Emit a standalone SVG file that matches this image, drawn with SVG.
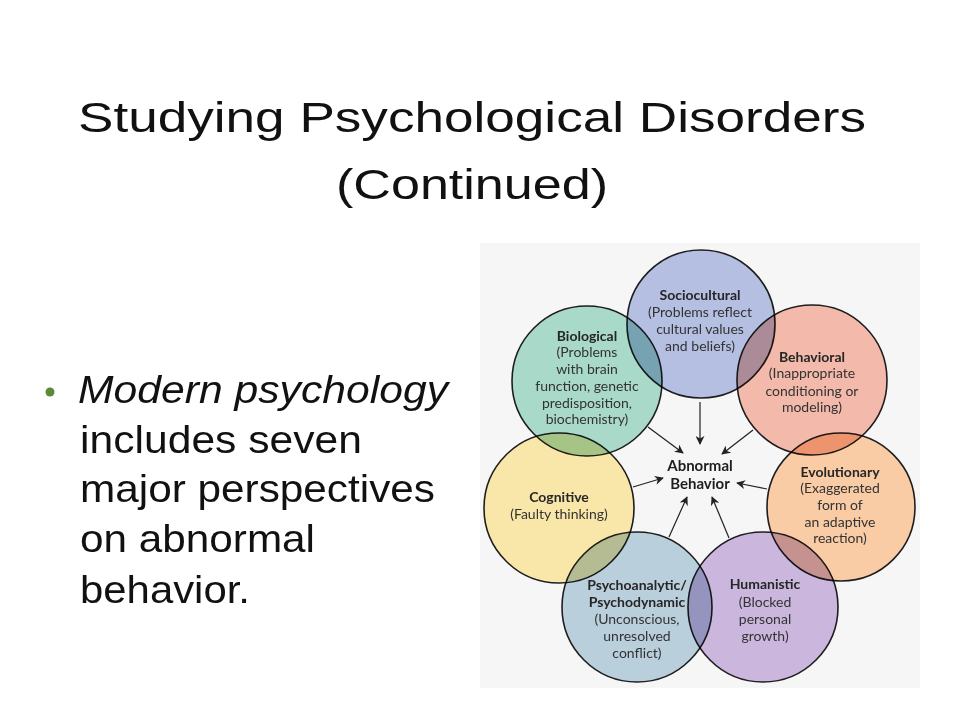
<svg xmlns="http://www.w3.org/2000/svg" width="960" height="720" viewBox="0 0 960 720">
<defs>
<marker id="ah" viewBox="0 0 10 10" refX="9" refY="5" markerWidth="9" markerHeight="9" markerUnits="userSpaceOnUse" orient="auto">
<path d="M0,0 L10,5 L0,10 L3,5 Z" fill="#222"/>
</marker>
</defs>
<style>
.title{font-family:"Liberation Sans",Arial,sans-serif;font-size:43px;fill:#111;}
.body{font-family:"Liberation Sans",Arial,sans-serif;font-size:39px;fill:#111;}
.c{stroke:#1e1e1e;stroke-width:1.6;mix-blend-mode:multiply;}
.h{font-family:Lato,"Open Sans",sans-serif;font-size:14px;font-weight:bold;fill:#262626;text-anchor:middle;}
.t{font-family:Lato,"Open Sans",sans-serif;font-size:14px;fill:#333;text-anchor:middle;}
.ab{font-family:Lato,"Open Sans",sans-serif;font-size:15px;font-weight:bold;fill:#1e1e1e;text-anchor:middle;}
.a{stroke:#222;stroke-width:1.2;fill:none;marker-end:url(#ah);}
</style>
<rect width="960" height="720" fill="#ffffff"/>
<g id="title">
<text class="title" x="78" y="132" textLength="788" lengthAdjust="spacingAndGlyphs">Studying Psychological Disorders</text>
<text class="title" x="336" y="199" textLength="272" lengthAdjust="spacingAndGlyphs">(Continued)</text>
</g>
<g id="bullet">
<circle cx="50" cy="392" r="4.5" fill="#5a8a3a"/>
<text class="body" x="78" y="403" font-style="italic" textLength="370" lengthAdjust="spacingAndGlyphs">Modern psychology</text>
<text class="body" x="80" y="453" textLength="282" lengthAdjust="spacingAndGlyphs">includes seven</text>
<text class="body" x="80" y="502" textLength="355" lengthAdjust="spacingAndGlyphs">major perspectives</text>
<text class="body" x="80" y="552" textLength="235" lengthAdjust="spacingAndGlyphs">on abnormal</text>
<text class="body" x="80" y="603" textLength="170" lengthAdjust="spacingAndGlyphs">behavior.</text>
</g>
<rect x="480" y="243" width="440" height="445" fill="#f6f6f6"/>
<g id="circles" style="isolation:isolate">
<circle id="sociocultural-c" class="c" cx="701" cy="324" r="74" fill="#b4bfe2"/>
<circle id="biological-c" class="c" cx="587" cy="381" r="75" fill="#a9d9c8"/>
<circle id="behavioral-c" class="c" cx="812" cy="380" r="75" fill="#f3b9aa"/>
<circle id="evolutionary-c" class="c" cx="841" cy="507" r="74" fill="#f9cca6"/>
<circle id="humanistic-c" class="c" cx="763" cy="607" r="75" fill="#cbb7dd"/>
<circle id="psychoanalytic-c" class="c" cx="637" cy="607" r="75" fill="#bacfdc"/>
<circle id="cognitive-c" class="c" cx="559" cy="508" r="75" fill="#f9e7aa"/>
</g>
<g id="connectors">
<line class="a" x1="700" y1="402" x2="700" y2="444"/>
<line class="a" x1="648" y1="427" x2="683" y2="453"/>
<line class="a" x1="753" y1="430" x2="722" y2="454"/>
<line class="a" x1="633" y1="487" x2="663" y2="478"/>
<line class="a" x1="767" y1="489" x2="737" y2="483"/>
<line class="a" x1="669" y1="537" x2="687" y2="497"/>
<line class="a" x1="729" y1="538" x2="712" y2="497"/>
</g>
<g id="sociocultural">
<text class="h" x="700" y="300">Sociocultural</text>
<text class="t" x="700" y="317">(Problems reflect</text>
<text class="t" x="700" y="334">cultural values</text>
<text class="t" x="700" y="351">and beliefs)</text>
</g>
<g id="biological">
<text class="h" x="587" y="341">Biological</text>
<text class="t" x="587" y="357">(Problems</text>
<text class="t" x="587" y="374">with brain</text>
<text class="t" x="587" y="391">function, genetic</text>
<text class="t" x="587" y="408">predisposition,</text>
<text class="t" x="587" y="424">biochemistry)</text>
</g>
<g id="behavioral">
<text class="h" x="812" y="362">Behavioral</text>
<text class="t" x="812" y="378">(Inappropriate</text>
<text class="t" x="812" y="396">conditioning or</text>
<text class="t" x="812" y="412">modeling)</text>
</g>
<g id="evolutionary">
<text class="h" x="840" y="477">Evolutionary</text>
<text class="t" x="840" y="493">(Exaggerated</text>
<text class="t" x="840" y="510">form of</text>
<text class="t" x="840" y="527">an adaptive</text>
<text class="t" x="840" y="543">reaction)</text>
</g>
<g id="abnormal">
<text class="ab" x="700" y="471">Abnormal</text>
<text class="ab" x="700" y="489">Behavior</text>
</g>
<g id="cognitive">
<text class="h" x="559" y="502">Cognitive</text>
<text class="t" x="559" y="519">(Faulty thinking)</text>
</g>
<g id="psychoanalytic">
<text class="h" x="637" y="590">Psychoanalytic/</text>
<text class="h" x="637" y="607">Psychodynamic</text>
<text class="t" x="637" y="624">(Unconscious,</text>
<text class="t" x="637" y="641">unresolved</text>
<text class="t" x="637" y="658">conflict)</text>
</g>
<g id="humanistic">
<text class="h" x="765" y="589">Humanistic</text>
<text class="t" x="765" y="607">(Blocked</text>
<text class="t" x="765" y="624">personal</text>
<text class="t" x="765" y="641">growth)</text>
</g>
</svg>
